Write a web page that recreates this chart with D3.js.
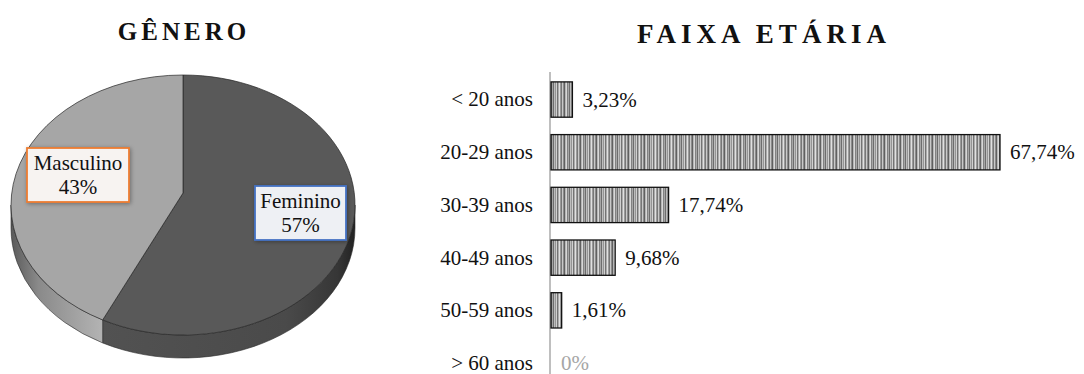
<!DOCTYPE html>
<html>
<head>
<meta charset="utf-8">
<script src="https://cdn.jsdelivr.net/npm/d3@7"></script>
<style>
  html, body { margin: 0; padding: 0; background: #fff; }
  svg { display: block; }
</style>
</head>
<body>
<svg id="chart" width="1084" height="374"></svg>
<script>
// Gênero
const genderLabels = ["Feminino", "Masculino"];
const genderValues = [57, 43];

// Faixa etária
const ageCategories = ["< 20 anos", "20-29 anos", "30-39 anos", "40-49 anos", "50-59 anos", "> 60 anos"];
const ageValues = [3.23, 67.74, 17.74, 9.68, 1.61, 0];

const FONT = "Liberation Serif";

const svg = d3.select("#chart").attr("font-family", FONT);
const defs = svg.append("defs");

// ---------- shared defs ----------
const stripeColors = ["#9a9a9a", "#777", "#c9c9c9", "#8c8c8c", "#606060", "#b6b6b6", "#d8d8d8",
  "#828282", "#a6a6a6", "#6d6d6d", "#bdbdbd", "#959595", "#d0d0d0", "#737373", "#acacac", "#e0e0e0"];
const pat = defs.append("pattern")
  .attr("id", "stripes").attr("patternUnits", "userSpaceOnUse")
  .attr("width", stripeColors.length).attr("height", 10);
pat.selectAll("rect").data(stripeColors).join("rect")
  .attr("x", (d, i) => i).attr("y", 0).attr("width", 1).attr("height", 10).attr("fill", d => d);

const shadow = defs.append("filter").attr("id", "soft")
  .attr("x", "-20%").attr("y", "-20%").attr("width", "140%").attr("height", "140%");
shadow.append("feGaussianBlur").attr("in", "SourceAlpha").attr("stdDeviation", 2).attr("result", "b");
shadow.append("feOffset").attr("in", "b").attr("dx", 1).attr("dy", 1).attr("result", "o");
shadow.append("feComponentTransfer").attr("in", "o").attr("result", "s")
  .append("feFuncA").attr("type", "linear").attr("slope", 0.35);
const fm = shadow.append("feMerge");
fm.append("feMergeNode").attr("in", "s");
fm.append("feMergeNode").attr("in", "SourceGraphic");

// ---------- pie (3D look) ----------
const pie = { cx: 183, cy: 205, rx: 172, ry: 130, depth: 23, apexY: 193 };
const topColors = { Feminino: "#595959", Masculino: "#a6a6a6" };

function sideGradient(id, stops) {
  const g = defs.append("linearGradient").attr("id", id)
    .attr("gradientUnits", "userSpaceOnUse")
    .attr("x1", pie.cx - pie.rx).attr("x2", pie.cx + pie.rx).attr("y1", 0).attr("y2", 0);
  stops.forEach(([o, c]) => g.append("stop").attr("offset", o).attr("stop-color", c));
}
sideGradient("sideMasc", [[0, "#5a5a5a"], [0.08, "#8a8a8a"], [0.26, "#b2b2b2"], [1, "#b2b2b2"]]);
sideGradient("sideFem", [[0, "#525252"], [0.26, "#525252"], [0.8, "#4a4a4a"], [0.95, "#363636"], [1, "#222"]]);
const sideFill = { Feminino: "url(#sideFem)", Masculino: "url(#sideMasc)" };

// slight perspective: angles on the near half are stretched toward the viewer
const warp = a => a + 0.06 * Math.sin(2 * a);
const pt = (a, dy = 0) => {
  const w = warp(a);
  return [pie.cx + pie.rx * Math.sin(w), pie.cy - pie.ry * Math.cos(w) + dy];
};

const arcs = d3.pie().sort(null).value(d => d.v)
  (genderLabels.map((l, i) => ({ l, v: genderValues[i] })));

const gPie = svg.append("g");

// side walls (front half only)
arcs.forEach(a => {
  const s = Math.max(a.startAngle, Math.PI / 2);
  const e = Math.min(a.endAngle, 3 * Math.PI / 2);
  if (e <= s) return;
  const p0 = pt(s), p1 = pt(e), p1d = pt(e, pie.depth), p0d = pt(s, pie.depth);
  const large = (warp(e) - warp(s)) > Math.PI ? 1 : 0;
  const d = `M${p0}A${pie.rx},${pie.ry} 0 ${large} 1 ${p1}L${p1d}A${pie.rx},${pie.ry} 0 ${large} 0 ${p0d}Z`;
  gPie.append("path").attr("d", d)
    .attr("fill", sideFill[a.data.l]).attr("stroke", "#2a2a2a").attr("stroke-width", 0.6);
});

// top faces
arcs.forEach(a => {
  const p0 = pt(a.startAngle), p1 = pt(a.endAngle);
  const large = (warp(a.endAngle) - warp(a.startAngle)) > Math.PI ? 1 : 0;
  const d = `M${pie.cx},${pie.apexY}L${p0}A${pie.rx},${pie.ry} 0 ${large} 1 ${p1}Z`;
  gPie.append("path").attr("d", d)
    .attr("fill", topColors[a.data.l]).attr("stroke", "#262626").attr("stroke-width", 0.7)
    .attr("stroke-linejoin", "round");
});

// data labels
const pieLabels = [
  { l: "Feminino", x: 255, y: 186, w: 91, h: 54, stroke: "#4472c4", fill: "#eef0f4" },
  { l: "Masculino", x: 27, y: 148, w: 102, h: 54, stroke: "#ed7d31", fill: "#f7f3f1" }
];
pieLabels.forEach(b => {
  const i = genderLabels.indexOf(b.l);
  const g = svg.append("g");
  g.append("rect").attr("x", b.x).attr("y", b.y).attr("width", b.w).attr("height", b.h)
    .attr("fill", b.fill).attr("stroke", b.stroke).attr("stroke-width", 1.8).attr("filter", "url(#soft)");
  const t = g.append("text").attr("font-family", FONT).attr("text-anchor", "middle")
    .attr("font-size", 21).attr("fill", "#111");
  t.append("tspan").attr("x", b.x + b.w / 2).attr("y", b.y + 22).text(b.l);
  t.append("tspan").attr("x", b.x + b.w / 2).attr("y", b.y + 46).text(genderValues[i] + "%");
});

svg.append("text").attr("font-family", FONT).attr("x", 184).attr("y", 40).attr("text-anchor", "middle")
  .attr("font-size", 25).attr("font-weight", "bold").attr("letter-spacing", 4)
  .attr("fill", "#111").text("GÊNERO");

// ---------- bar chart ----------
svg.append("text").attr("font-family", FONT).attr("x", 764).attr("y", 43).attr("text-anchor", "middle")
  .attr("font-size", 27).attr("font-weight", "bold").attr("letter-spacing", 5)
  .attr("fill", "#111").text("FAIXA ETÁRIA");

const x = d3.scaleLinear().domain([0, d3.max(ageValues)]).range([551, 1000]);
const y = d3.scaleBand().domain(ageCategories).range([73.2, 389.4])
  .paddingInner(0.33).paddingOuter(0.165);

const yAxis = d3.axisLeft(y).tickSize(0).tickPadding(17);
const gy = svg.append("g").attr("transform", "translate(550,0)").call(yAxis);
gy.attr("font-family", FONT).attr("font-size", 21);
gy.select(".domain").remove();
gy.selectAll("text").attr("font-family", FONT).attr("font-size", 21)
  .attr("fill", "#111").attr("dy", "0.33em");

svg.append("line").attr("x1", 550).attr("x2", 550).attr("y1", 72).attr("y2", 374)
  .attr("stroke", "#bfbfbf").attr("stroke-width", 2);

const rows = ageCategories.map((c, i) => ({ c, v: ageValues[i] }));
svg.append("g").selectAll("rect").data(rows.filter(d => d.v > 0)).join("rect")
  .attr("x", x(0)).attr("y", d => y(d.c))
  .attr("width", d => x(d.v) - x(0)).attr("height", y.bandwidth())
  .attr("fill", "url(#stripes)").attr("stroke", "#111").attr("stroke-width", 1.3);

const fmt = v => v === 0 ? "0%" : d3.format(".2f")(v).replace(".", ",") + "%";
svg.append("g").selectAll("text").data(rows).join("text")
  .attr("font-family", FONT)
  .attr("x", d => x(d.v) + 10).attr("y", d => y(d.c) + y.bandwidth() / 2 + 7)
  .attr("font-size", 21).attr("fill", d => d.v === 0 ? "#a6a6a6" : "#111")
  .text(d => fmt(d.v));
</script>
</body>
</html>
